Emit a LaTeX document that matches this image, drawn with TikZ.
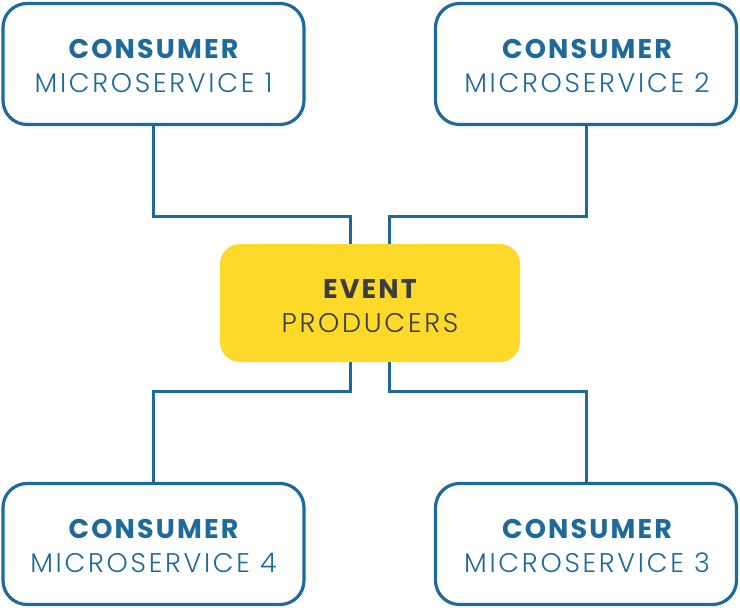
\documentclass[tikz,border=0pt]{standalone}
\usepackage{fontspec}
\setmainfont{Poppins}[LetterSpace=8]
\newfontface\lightface{Poppins Light}[LetterSpace=10]
\definecolor{cblue}{HTML}{1E6A99}
\definecolor{cyel}{HTML}{FDDA2A}
\definecolor{cgray}{HTML}{3C3C3C}
\begin{document}
\begin{tikzpicture}[x=1pt,y=-1pt,
  consumer/.style={draw=cblue,line width=3.2pt,rounded corners=24pt,fill=white,minimum width=301pt,minimum height=121pt,inner sep=0pt},
  producer/.style={fill=cyel,rounded corners=20pt,minimum width=300pt,minimum height=118pt,inner sep=0pt},
  boldtxt/.style={anchor=base,font=\fontsize{27}{31}\selectfont\bfseries,inner sep=0pt},
  lighttxt/.style={anchor=base,font=\fontsize{27}{31}\lightface,inner sep=0pt},
  link/.style={draw=cblue,line width=3pt}]
\useasboundingbox (0,0) rectangle (740,608);
\node[consumer] (c1) at (153.5,64) {};
\node[consumer] (c2) at (586,64) {};
\node[consumer] (c4) at (153.5,544) {};
\node[consumer] (c3) at (586,544) {};
\coordinate (j1) at (153.5,216);
\coordinate (j2) at (586,216);
\coordinate (j4) at (153.5,391);
\coordinate (j3) at (586,391);
\coordinate (pl) at (350,303);
\coordinate (pr) at (389,303);
\draw[link] (c1.south) -- (j1) -| (pl);
\draw[link] (c2.south) -- (j2) -| (pr);
\draw[link] (c4.north) -- (j4) -| (pl);
\draw[link] (c3.north) -- (j3) -| (pr);
\node[producer] (p) at (370,303) {};
\node[boldtxt,text=cblue] (t1a) at (153.5,58) {CONSUMER};
\node[lighttxt,text=cblue] (t1b) at (153.5,92) {MICROSERVICE 1};
\node[boldtxt,text=cblue] (t2a) at (587,58) {CONSUMER};
\node[lighttxt,text=cblue] (t2b) at (587,92) {MICROSERVICE 2};
\node[boldtxt,text=cblue] (t4a) at (153.5,538) {CONSUMER};
\node[lighttxt,text=cblue] (t4b) at (153.5,572) {MICROSERVICE 4};
\node[boldtxt,text=cblue] (t3a) at (587,538) {CONSUMER};
\node[lighttxt,text=cblue] (t3b) at (587,572) {MICROSERVICE 3};
\node[boldtxt,text=cgray] (pa) at (370,298) {EVENT};
\node[lighttxt,text=cgray] (pb) at (370,332) {PRODUCERS};
\end{tikzpicture}
\end{document}
